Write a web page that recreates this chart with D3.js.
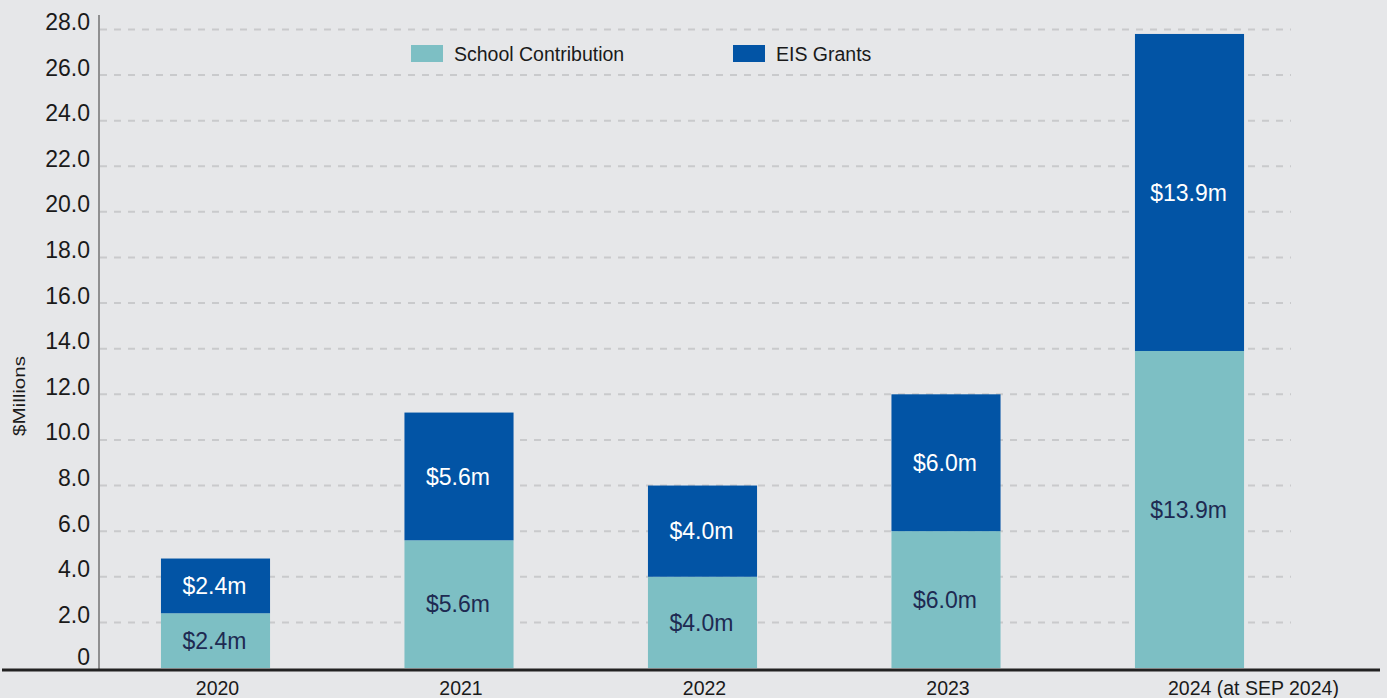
<!DOCTYPE html>
<html>
<head>
<meta charset="utf-8">
<script src="https://cdn.jsdelivr.net/npm/d3@7/dist/d3.min.js"></script>
<style>
  html, body { margin: 0; padding: 0; background: #e6e7e9; }
  svg { display: block; font-family: "Liberation Sans", Arial, sans-serif; }
</style>
</head>
<body>
<svg id="chart" width="1387" height="698"></svg>
<script>
const categories = ["2020", "2021", "2022", "2023", "2024 (at SEP 2024)"];
const schoolContribution = [2.4, 5.6, 4.0, 6.0, 13.9];
const eisGrants = [2.4, 5.6, 4.0, 6.0, 13.9];
const seriesNames = ["School Contribution", "EIS Grants"];
const seriesColors = ["#7dbfc4", "#0254a5"];
const labelColors = ["#1e2a52", "#ffffff"];
const yTicks = [0, 2, 4, 6, 8, 10, 12, 14, 16, 18, 20, 22, 24, 26, 28];
const yTitle = "$Millions";

const svg = d3.select("#chart");
const W = 1387, H = 698;
svg.append("rect").attr("width", W).attr("height", H).attr("fill", "#e6e7e9");

const y = d3.scaleLinear().domain([0, 28]).range([668, 29.4]);
const x = d3.scaleBand().domain(categories).range([93.75, 1311.25])
  .paddingInner(0.552).paddingOuter(0.276);

// gridlines
svg.append("g").selectAll("line").data(yTicks.filter(d => d > 0)).join("line")
  .attr("x1", 100).attr("x2", 1291)
  .attr("y1", d => y(d)).attr("y2", d => y(d))
  .attr("stroke", "#c9cacc").attr("stroke-width", 2)
  .attr("stroke-dasharray", "7,7");

// y axis
const yAxis = d3.axisLeft(y).tickValues(yTicks).tickSize(0).tickPadding(9)
  .tickFormat(d => d === 0 ? "0" : d3.format(".1f")(d));
const gy = svg.append("g").attr("transform", "translate(99,0)").call(yAxis);
gy.select(".domain").remove();
gy.selectAll("text")
  .attr("font-size", 23).attr("fill", "#1a1a1a")
  .attr("font-family", "Liberation Sans, Arial, sans-serif")
  .attr("dy", d => d === 0 ? "-4" : "0");
svg.append("line").attr("x1", 99).attr("x2", 99).attr("y1", 15).attr("y2", 670)
  .attr("stroke", "#555").attr("stroke-width", 1.2);

// y title
svg.append("text")
  .attr("transform", "translate(25,396) rotate(-90)")
  .attr("text-anchor", "middle")
  .attr("font-size", 16).attr("fill", "#1a1a1a")
  .attr("textLength", 80).attr("lengthAdjust", "spacingAndGlyphs")
  .text(yTitle);

// stacked data
const data = categories.map((c, i) => ({ cat: c, s0: schoolContribution[i], s1: eisGrants[i] }));
const stack = d3.stack().keys(["s0", "s1"]);
const stacked = stack(data);

const layers = svg.append("g").selectAll("g").data(stacked).join("g")
  .attr("fill", (d, i) => seriesColors[i]);
layers.selectAll("rect").data(d => d).join("rect")
  .attr("x", d => x(d.data.cat))
  .attr("width", x.bandwidth())
  .attr("y", d => y(d[1]))
  .attr("height", d => y(d[0]) - y(d[1]));

// value labels
const lab = svg.append("g").selectAll("g").data(stacked).join("g");
lab.each(function (layer, li) {
  d3.select(this).selectAll("text").data(layer).join("text")
    .attr("x", d => x(d.data.cat) + x.bandwidth() / 2 - 1)
    .attr("y", d => (y(d[0]) + y(d[1])) / 2)
    .attr("dy", "0.36em")
    .attr("text-anchor", "middle")
    .attr("font-size", 23)
    .attr("fill", labelColors[li])
    .text(d => "$" + d3.format(".1f")(d[1] - d[0]) + "m");
});

// baseline
svg.append("line").attr("x1", 2).attr("x2", 1380).attr("y1", 670).attr("y2", 670)
  .attr("stroke", "#222").attr("stroke-width", 3);

// x labels
svg.append("g").selectAll("text").data(categories).join("text")
  .attr("x", (d, i) => i === categories.length - 1 ? x(d) + 33 : x(d) + x.bandwidth() / 2 + 2)
  .attr("y", 695)
  .attr("text-anchor", (d, i) => i === categories.length - 1 ? "start" : "middle")
  .attr("font-size", 19.5).attr("fill", "#1a1a1a")
  .text(d => d);

// legend
const legendX = [411, 733];
const lg = svg.append("g").selectAll("g").data(seriesNames).join("g")
  .attr("transform", (d, i) => `translate(${legendX[i]},45)`);
lg.append("rect").attr("width", 32).attr("height", 17)
  .attr("fill", (d, i) => seriesColors[i]);
lg.append("text").attr("x", 43).attr("y", 16)
  .attr("font-size", 19.5).attr("fill", "#1a1a1a").text(d => d);
</script>
</body>
</html>
